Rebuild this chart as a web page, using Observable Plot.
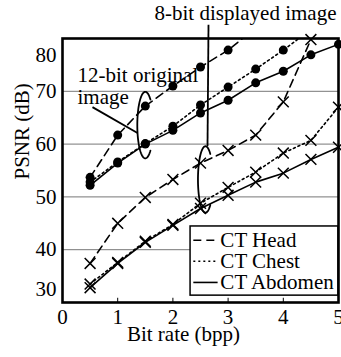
<!DOCTYPE html>
<html>
<head>
<meta charset="utf-8">
<script src="https://cdn.jsdelivr.net/npm/d3@7"></script>
<script src="https://cdn.jsdelivr.net/npm/@observablehq/plot@0.6"></script>
<style>
  html, body { margin: 0; padding: 0; background: #fff; }
  #chart { width: 341px; height: 357px; }
  #chart svg, #chart svg text { font-family: "Liberation Serif", "Times New Roman", serif !important; }
</style>
</head>
<body>
<div id="chart"></div>
<script>
// ---- data ----
const bitRates = [0.5, 1, 1.5, 2, 2.5, 3, 3.5, 4, 4.5, 5];
const seriesNames = ["CT Head", "CT Chest", "CT Abdomen"];
// 12-bit original image (filled dots)
const head12    = [53.7, 61.7, 67.2, 71.0, 74.6, 77.8, 82.0, null, null, null];
const chest12   = [52.8, 56.6, 60.1, 63.4, 67.4, 70.8, 74.2, 77.8, 81.7, null];
const abdomen12 = [52.2, 56.4, 60.0, 62.6, 65.9, 68.3, 71.6, 73.8, 76.9, 78.9];
// 8-bit displayed image (x markers)
const head8     = [37.4, 45.0, 49.9, 53.3, 56.4, 58.8, 61.7, 68.0, 79.8, null];
const chest8    = [33.5, 37.6, 41.6, 44.8, 48.8, 51.8, 54.7, 58.3, 60.7, 67.0];
const abdomen8  = [32.8, 37.4, 41.4, 44.6, 47.8, 50.3, 52.8, 54.5, 57.1, 59.4];
const xTicks = [0, 1, 2, 3, 4, 5];
const yTicks = [30, 40, 50, 60, 70, 80];
const gridYs = [40, 50, 60, 70];
const annotation8 = "8-bit displayed image";
const annotation12 = ["12-bit original", "image"];

// ---- layout (annotation anchors in data units) ----
const dashes = ["8,5", "2,3", null];
const rows = vals => bitRates.map((x, i) => ({x, y: vals[i]})).filter(d => d.y != null);
const visible = vals => rows(vals).filter(d => d.y <= 80.5);
function ellipse(cx, cy, rx, ry) {
  return d3.range(50, 311, 4).map(t => ({
    x: cx + rx * Math.cos(t * Math.PI / 180),
    y: cy + ry * Math.sin(t * Math.PI / 180)
  }));
}
const ell12 = ellipse(1.50, 63.6, 0.145, 6.3);
const ell8 = ellipse(2.59, 53.3, 0.136, 6.3);
const leaders = [
  {x1: 2.645, y1: 82.6, x2: 2.627, y2: 59.6},
  {x1: 0.543, y1: 67.0, x2: 1.359, y2: 62.1}
];
const legendBox = {x1: 2.32, x2: 5, y1: 31.3, y2: 44.4};
const legendRows = seriesNames.map((name, i) => ({
  name, dash: dashes[i], y: [41.8, 37.8, 33.8][i], x1: 2.37, x2: 2.81, tx: 2.86
}));

const font = "Liberation Serif";
const T = {fontSize: 21, fontFamily: font, fill: "black"};
const marks = [
  Plot.ruleY(gridYs, {stroke: "#777", strokeWidth: 1}),
];
const groups12 = [head12, chest12, abdomen12];
const groups8 = [head8, chest8, abdomen8];
groups12.concat(groups8).forEach((vals, i) => {
  const dash = dashes[i % 3];
  marks.push(Plot.line(rows(vals), {x: "x", y: "y", stroke: "black", strokeWidth: 1.6,
    strokeDasharray: dash || undefined, clip: true}));
});
groups12.forEach(vals => marks.push(Plot.dot(visible(vals), {x: "x", y: "y", r: 4.5, fill: "black"})));
groups8.forEach(vals => marks.push(Plot.dot(visible(vals), {x: "x", y: "y", r: 5, symbol: "times", stroke: "black", strokeWidth: 1.5})));

// legend
marks.push(Plot.rect([legendBox], {x1: "x1", x2: "x2", y1: "y1", y2: "y2", fill: "white", stroke: "black", strokeWidth: 1.5}));
legendRows.forEach(r => {
  marks.push(Plot.link([r], {x1: "x1", x2: "x2", y1: "y", y2: "y", stroke: "black", strokeWidth: 1.6, strokeDasharray: r.dash || undefined}));
});
marks.push(Plot.text(legendRows, {x: "tx", y: "y", text: "name", textAnchor: "start", ...T}));

// annotations
marks.push(Plot.line(ell12, {x: "x", y: "y", stroke: "black", strokeWidth: 1.8}));
marks.push(Plot.line(ell8, {x: "x", y: "y", stroke: "black", strokeWidth: 1.8}));
marks.push(Plot.link(leaders, {x1: "x1", y1: "y1", x2: "x2", y2: "y2", stroke: "black", strokeWidth: 1.8}));
marks.push(Plot.text([annotation8], {x: 3.315, y: 84.8, text: d => d, textAnchor: "middle", ...T}));
marks.push(Plot.text(annotation12, {x: 0.272, y: (d, i) => [73.1, 68.9][i], text: d => d, textAnchor: "start", ...T}));

// frame, ticks, axes
marks.push(Plot.ruleX(xTicks.slice(1, -1), {y1: 30, y2: 30.8, stroke: "black", strokeWidth: 1}));
marks.push(Plot.frame({stroke: "black", strokeWidth: 2.6}));
marks.push(Plot.axisX({ticks: xTicks, tickSize: 0, tickPadding: 7, label: null, fontSize: 21, fontFamily: font, tickFormat: d => String(d)}));
marks.push(Plot.axisY({ticks: yTicks.slice(1, -1), tickSize: 0, tickPadding: 6, label: null, fontSize: 21, fontFamily: font, tickFormat: d => String(d)}));
marks.push(Plot.text([yTicks[0]], {frameAnchor: "bottom-left", text: d => String(d), textAnchor: "end", dx: -6, dy: -7, ...T}));
marks.push(Plot.text([yTicks[yTicks.length - 1]], {frameAnchor: "top-left", text: d => String(d), textAnchor: "end", dx: -6, dy: 9, ...T}));
marks.push(Plot.text(["Bit rate (bpp)"], {frameAnchor: "bottom", text: d => d, dx: -17, dy: 38, ...T}));
marks.push(Plot.text(["PSNR (dB)"], {frameAnchor: "left", text: d => d, rotate: -90, dx: -40, dy: 9, ...T}));

const chart = Plot.plot({
  width: 341,
  height: 357,
  marginLeft: 62,
  marginRight: 3,
  marginTop: 38,
  marginBottom: 55,
  x: {domain: [0, 5]},
  y: {domain: [30, 80]},
  style: {fontFamily: font, fontSize: "21px", background: "white", color: "black", overflow: "visible"},
  marks
});
document.getElementById("chart").appendChild(chart);
</script>
</body>
</html>
